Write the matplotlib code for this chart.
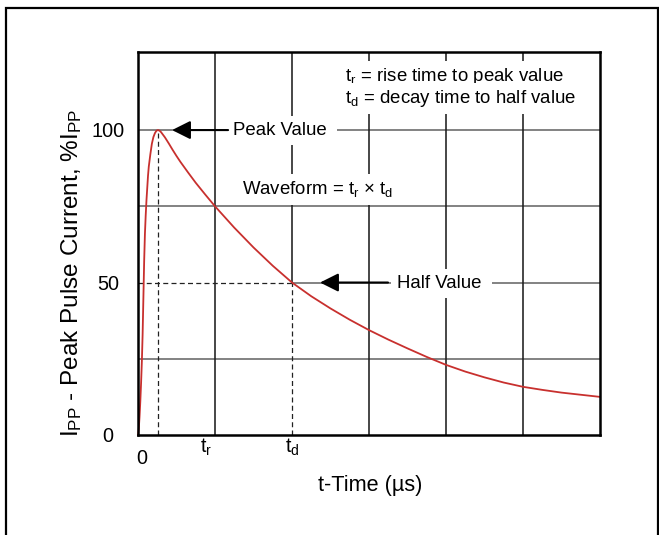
import matplotlib
matplotlib.use('Agg')
import matplotlib.pyplot as plt
from matplotlib.lines import Line2D

# ---- data ----
t_us = [0.0, 0.01, 0.02, 0.03, 0.04, 0.05, 0.06, 0.07, 0.08, 0.09, 0.10, 0.11,
        0.12, 0.13, 0.14, 0.16, 0.18, 0.20, 0.22, 0.24, 0.26, 0.28, 0.30, 0.35,
        0.40, 0.45, 0.50, 0.55, 0.65, 0.75, 0.875, 1.0, 1.25, 1.5, 1.75, 2.0,
        2.25, 2.5, 2.75, 3.0, 3.25, 3.5, 3.75, 4.0, 4.25, 4.5, 4.75, 5.0, 5.25,
        5.5, 5.75, 6.0]
current_pct = [0, 2, 6, 11, 17, 24, 33, 45, 57, 66, 72, 77,
               81, 85, 88, 92, 95.5, 97.7, 99, 99.8, 100, 99.8, 99.3, 97.6,
               95.6, 93.5, 91.5, 89.6, 86.1, 82.7, 78.8, 75, 68, 61.5, 55.5, 50,
               45.5, 41.5, 37.8, 34.4, 31.3, 28.4, 25.6, 23.0, 20.8, 18.9, 17.2, 15.8, 14.8,
               13.9, 13.2, 12.5]
y_tick_values = [0, 50, 100]
y_tick_labels = ['0', '50', '100']
y_grid = [25, 75, 100]
x_grid = [1, 2, 3, 4, 5]
x_tick_pos = [0, 1, 2]
x_tick_labels = ['0', 't$_r$', 't$_d$']
t_peak, i_peak = 0.26, 100
t_half, i_half = 2.0, 50
x_max, y_max = 6, 125.6

plt.rcParams.update({
    'font.family': ['Liberation Sans', 'DejaVu Sans'],
    'mathtext.fontset': 'custom',
    'mathtext.rm': 'Liberation Sans',
    'mathtext.it': 'Liberation Sans:italic',
    'mathtext.bf': 'Liberation Sans:bold',
    'mathtext.default': 'regular',
})

W, H = 659, 535
fig = plt.figure(figsize=(W / 100, H / 100), dpi=100)
fig.patch.set_facecolor('white')

# outer frame (open at the bottom)
fig.add_artist(Line2D([6 / W, 6 / W, 658 / W, 658 / W], [0, 1 - 8 / H, 1 - 8 / H, 0],
                      transform=fig.transFigure, color='black', lw=1.6,
                      solid_joinstyle='miter'))

ax = fig.add_axes([138 / W, 1 - 435 / H, (600 - 138) / W, (435 - 52) / H])
ax.set_xlim(0, x_max)
ax.set_ylim(0, y_max)
ax.set_xticks([])
ax.set_yticks([])
for s in ax.spines.values():
    s.set_linewidth(1.8)
    s.set_zorder(6)

hcol = '#676767'
vcol = '#1e1e1e'
glw = 1.15
dash = (0, (4, 2.6))

for y in y_grid:
    ax.axhline(y, color=hcol, lw=glw, zorder=1)
ax.hlines(i_half, t_half, x_max, color=hcol, lw=glw, zorder=1)
ax.hlines(i_half, 0, t_half, color='#222222', lw=0.9, linestyles=dash, zorder=2)
for x in x_grid:
    if x == t_half:
        ax.vlines(x, i_half, y_max, color=vcol, lw=glw, zorder=1)
        ax.vlines(x, 0, i_half, color='#222222', lw=0.9, linestyles=dash, zorder=2)
    else:
        ax.axvline(x, color=vcol, lw=glw, zorder=1)
ax.vlines(t_peak, 0, i_peak, color='#222222', lw=0.9, linestyles=dash, zorder=2)

ax.plot(t_us, current_pct, color='#c8302e', lw=1.3, zorder=3, clip_on=False,
        solid_joinstyle='round')

fs = 13.4
box = dict(boxstyle='square,pad=0.3', fc='white', ec='none')
ax.text(1.234, 98.4, 'Peak Value ', fontsize=fs, ha='left', va='baseline', bbox=box, zorder=4)
ax.text(3.364, 48.2, 'Half Value ', fontsize=fs, ha='left', va='baseline', bbox=box, zorder=4)
ax.text(1.35, 79.0, 'Waveform = t$_r$ × t$_d$', fontsize=fs, ha='left', va='baseline',
        bbox=box, zorder=4)
box2 = dict(boxstyle='square,pad=0.25', fc='white', ec='none')
ax.text(2.69, 116.1, 't$_r$ = rise time to peak value', fontsize=fs, ha='left',
        va='baseline', bbox=box2, zorder=4)
ax.text(2.69, 108.9, 't$_d$ = decay time to half value', fontsize=fs, ha='left',
        va='baseline', bbox=box2, zorder=4)

arrow = dict(arrowstyle='-|>,head_length=0.8,head_width=0.4', mutation_scale=14,
             lw=1.5, color='black', shrinkA=0, shrinkB=0)
ax.annotate('', xy=(0.442, i_peak), xytext=(1.17, i_peak), arrowprops=arrow, zorder=5)
ax.annotate('', xy=(2.364, i_half), xytext=(3.247, i_half), arrowprops=arrow, zorder=5)

# tick labels
ytr = ax.get_yaxis_transform()
for v, lab in zip(y_tick_values, y_tick_labels):
    ax.text(-0.065, v - 2.3, lab, transform=ytr, fontsize=14.3, ha='center', va='baseline')
xtr = ax.get_xaxis_transform()
x_label_offsets = [0.05, -0.11, 0.01]
x_label_y = [-0.0757, -0.047, -0.047]
for p, lab, dx, yy in zip(x_tick_pos, x_tick_labels, x_label_offsets, x_label_y):
    ax.text(p + dx, yy, lab, transform=xtr, fontsize=14.3, ha='center', va='baseline',
            clip_on=False)

fig.text(72 / W, 1 - 273 / H, 'I$_{PP}$ - Peak Pulse Current, %I$_{PP}$', rotation=90,
         ha='center', va='center', fontsize=17.5)
fig.text(370 / W, 1 - 491 / H, 't-Time (µs)', ha='center', va='baseline', fontsize=15.6)

fig.savefig('out.png', dpi=100, facecolor='white')
